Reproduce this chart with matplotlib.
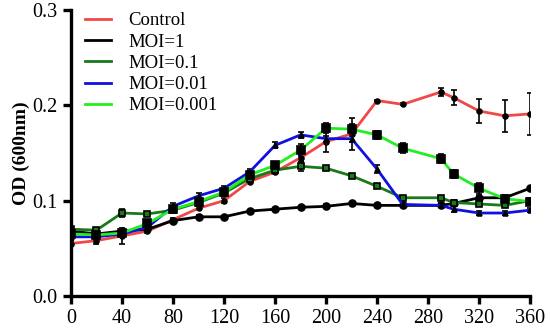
import numpy as np
import matplotlib
matplotlib.use("Agg")
import matplotlib.pyplot as plt
from matplotlib.lines import Line2D

plt.rcParams['font.family'] = ['Liberation Serif', 'DejaVu Serif']

# time points (min)
time = [0, 20, 40, 60, 80, 100, 120, 140, 160, 180, 200, 220, 240, 260, 290, 300, 320, 340, 360]

control = [0.055, 0.058, 0.063, 0.068, 0.080, 0.092, 0.100, 0.120, 0.130, 0.145, 0.162, 0.170,
           0.205, 0.201, 0.214, 0.208, 0.194, 0.189, 0.191]
control_err = [0.003, 0.004, 0.008, 0.002, 0.002, 0.002, 0.003, 0.002, 0.002, 0.003, 0.011, 0.017,
               0.001, 0.001, 0.004, 0.008, 0.0125, 0.017, 0.022]

moi_1 = [0.068, 0.065, 0.068, 0.070, 0.079, 0.083, 0.083, 0.089, 0.091, 0.093, 0.094, 0.097,
         0.095, 0.095, 0.095, 0.097, 0.103, 0.103, 0.113]
moi_1_err = [0.002, 0.002, 0.002, 0.002, 0.002, 0.002, 0.001, 0.001, 0.001, 0.001, 0.002, 0.002,
             0.001, 0.001, 0.001, 0.002, 0.002, 0.002, 0.001]

moi_01 = [0.070, 0.069, 0.087, 0.086, 0.090, 0.098, 0.108, 0.123, 0.132, 0.136, 0.134, 0.126,
          0.115, 0.103, 0.103, 0.098, 0.0965, 0.095, 0.100]
moi_01_err = [0.002, 0.002, 0.004, 0.002, 0.003, 0.003, 0.002, 0.002, 0.003, 0.005, 0.002, 0.002,
              0.002, 0.002, 0.002, 0.003, 0.002, 0.002, 0.002]

moi_001 = [0.062, 0.062, 0.065, 0.072, 0.094, 0.105, 0.113, 0.130, 0.158, 0.169, 0.165, 0.165,
           0.133, 0.096, 0.095, 0.091, 0.087, 0.087, 0.090]
moi_001_err = [0.002, 0.002, 0.002, 0.002, 0.003, 0.003, 0.002, 0.003, 0.003, 0.003, 0.003, 0.003,
               0.004, 0.002, 0.002, 0.003, 0.002, 0.002, 0.002]

moi_0001 = [0.065, 0.064, 0.066, 0.076, 0.091, 0.099, 0.109, 0.127, 0.137, 0.153, 0.176, 0.175,
            0.169, 0.155, 0.144, 0.128, 0.113, 0.102, 0.099]
moi_0001_err = [0.003, 0.002, 0.002, 0.004, 0.003, 0.004, 0.003, 0.004, 0.003, 0.006, 0.005, 0.005,
                0.004, 0.005, 0.005, 0.004, 0.006, 0.004, 0.004]

labels = ["Control", "MOI=1", "MOI=0.1", "MOI=0.01", "MOI=0.001"]

fig = plt.figure(figsize=(5.5, 3.34), dpi=100)
ax = fig.add_axes([0.129, 0.114, 0.835, 0.856])

series = [
    (control, control_err, "#f04848", "o", 3.5, "black"),
    (moi_1, moi_1_err, "black", "o", 5, "black"),
    (moi_01, moi_01_err, "#1a7a1a", "s", 4.5, "#1a7a1a"),
    (moi_001, moi_001_err, "#1010e0", "^", 3.5, "black"),
    (moi_0001, moi_0001_err, "#22ee22", "s", 5.5, "black"),
]

for y, e, col, mk, ms, face in series:
    ax.errorbar(time, y, yerr=e, color=col, lw=2, marker=mk, ms=ms,
                mfc=face, mec="black", mew=1.2, ecolor="black",
                elinewidth=1.2, capsize=2.5, capthick=1.2)

ax.set_xlim(0, 360)
ax.set_ylim(0, 0.3)
ax.set_xticks(np.arange(0, 361, 40))
ax.set_yticks([0.0, 0.1, 0.2, 0.3])
ax.set_yticklabels(["0.0", "0.1", "0.2", "0.3"])
for s in ["top", "right"]:
    ax.spines[s].set_visible(False)
for s in ["left", "bottom"]:
    ax.spines[s].set_linewidth(2.4)
ax.tick_params(width=2.4, length=6, labelsize=14.5, direction="out")
ax.set_ylabel("OD (600nm)", fontsize=14, fontweight="bold", labelpad=2)

handles = [Line2D([0], [0], color=s[2], lw=2) for s in series]
ax.legend(handles, labels, loc="upper left", bbox_to_anchor=(0.01, 1.025), frameon=False,
          fontsize=13.5, handlelength=1.4, handletextpad=0.9, labelspacing=0.22,
          borderaxespad=0.1)

fig.savefig("out.png", dpi=100)
